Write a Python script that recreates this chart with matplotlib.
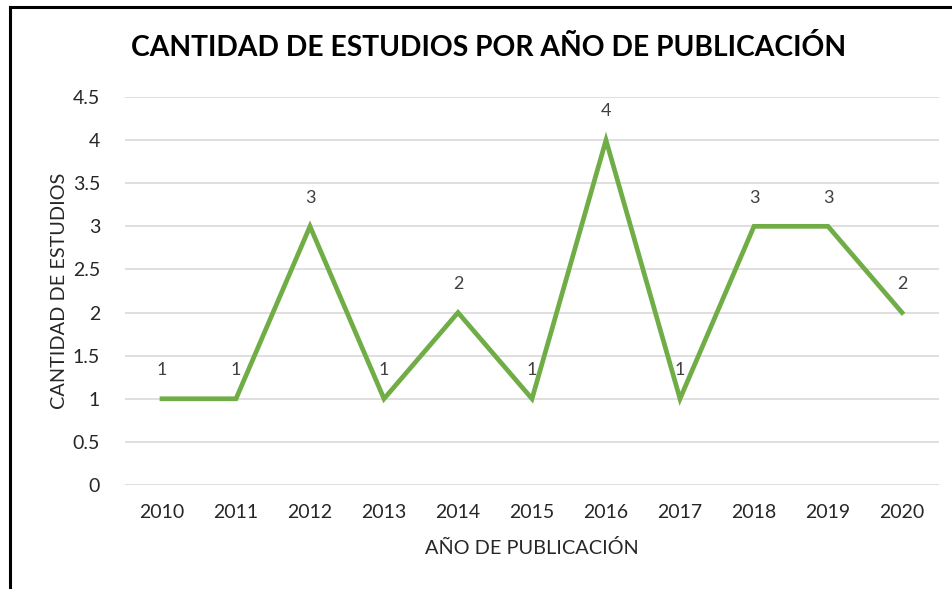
import matplotlib
matplotlib.use("Agg")
import matplotlib.pyplot as plt
from matplotlib.lines import Line2D

years = ["2010", "2011", "2012", "2013", "2014", "2015", "2016", "2017", "2018", "2019", "2020"]
counts = [1, 1, 3, 1, 2, 1, 4, 1, 3, 3, 2]
yticks = [0, 0.5, 1, 1.5, 2, 2.5, 3, 3.5, 4, 4.5]
ytick_labels = ["0", "0.5", "1", "1.5", "2", "2.5", "3", "3.5", "4", "4.5"]

plt.rcParams['font.family'] = ['Lato', 'DejaVu Sans']

W, H = 953, 589
fig = plt.figure(figsize=(W/100, H/100), dpi=100)
ax = fig.add_axes([125/W, 1-485/H, (939-125)/W, (485-97)/H])

x = list(range(len(years)))
ax.plot(x, counts, color="#70AD47", linewidth=3.4, solid_joinstyle="miter", zorder=3)
for xi, c in zip(x, counts):
    ax.annotate(str(c), (xi, c), xytext=(0, 15), textcoords="offset points",
                ha="center", va="bottom", fontsize=13, color="#404040")

ax.set_xlim(-0.5, len(years)-0.5)
ax.set_ylim(0, 4.5)
ax.set_yticks(yticks)
ax.set_yticklabels(ytick_labels)
ax.set_xticks(x)
ax.set_xticklabels(years)
ax.grid(axis="y", color="#D9D9D9", linewidth=1.2)
ax.set_axisbelow(True)
for s in ax.spines.values():
    s.set_visible(False)
ax.tick_params(length=0, labelsize=14, colors="#404040", labelcolor="#262626")
ax.tick_params(axis="y", pad=18)
ax.tick_params(axis="x", pad=14)

ax.set_xlabel("AÑO DE PUBLICACIÓN", fontsize=14.3, color="#262626", labelpad=13)
ax.set_ylabel("CANTIDAD DE ESTUDIOS", fontsize=14.3, color="#262626", labelpad=3)

fig.text(489/W, 1-48/H, "CANTIDAD DE ESTUDIOS POR AÑO DE PUBLICACIÓN", ha="center", va="center",
         fontsize=20.3, fontweight="bold", color="black")

# figure border (left and top)
fig.add_artist(Line2D([10/W, 10/W], [0, 1-7/H], color="black", linewidth=2.2, transform=fig.transFigure))
fig.add_artist(Line2D([10/W, 1], [1-7/H, 1-7/H], color="black", linewidth=2.2, transform=fig.transFigure))

fig.savefig("out.png", dpi=100)
